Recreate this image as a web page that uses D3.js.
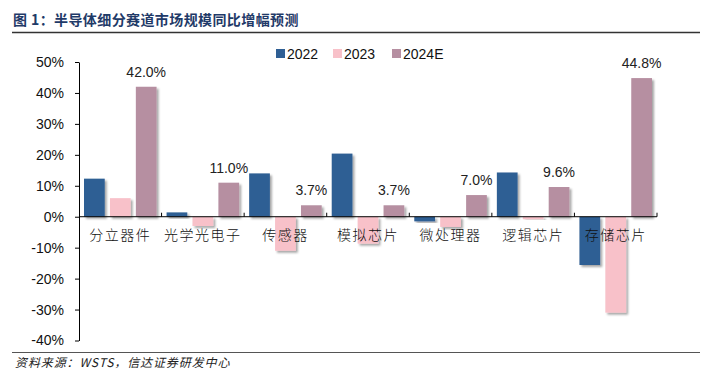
<!DOCTYPE html>
<html>
<head>
<meta charset="utf-8">
<script src="https://cdn.jsdelivr.net/npm/d3@7"></script>
<style>
  body { margin: 0; background: #fff; }
  svg { display: block; }
</style>
</head>
<body>
<script>
// 数据
var categories = ["分立器件", "光学光电子", "传感器", "模拟芯片", "微处理器", "逻辑芯片", "存储芯片"];
var series = ["2022", "2023", "2024E"];
var v2022 = [12.3, 1.4, 14.0, 20.4, -1.5, 14.3, -15.6];
var v2023 = [6.0, -3.0, -11.0, -8.7, -3.3, -0.8, -31.0];
var v2024 = [42.0, 11.0, 3.7, 3.7, 7.0, 9.6, 44.8];
var yTicks = [50, 40, 30, 20, 10, 0, -10, -20, -30, -40];
var colors = ["#2F5F94", "#F8C1C9", "#B68FA1"];

var W = 704, H = 375;
var svg = d3.select("body").append("svg").attr("width", W).attr("height", H);

// sombra de las barras
var defs = svg.append("defs");
var f = defs.append("filter").attr("id", "sombra")
    .attr("x", "-20%").attr("y", "-20%").attr("width", "150%").attr("height", "150%");
f.append("feDropShadow").attr("dx", 2).attr("dy", 2).attr("stdDeviation", 1.2)
    .attr("flood-color", "#000").attr("flood-opacity", 0.35);

// titulo
svg.append("text")
    .attr("x", 13).attr("y", 25)
    .style("font-family", "'Noto Sans CJK SC', sans-serif")
    .style("font-weight", "bold")
    .style("font-size", "14px")
    .style("letter-spacing", "0.4px")
    .attr("fill", "#1F3A68")
    .text("图 1：半导体细分赛道市场规模同比增幅预测");
svg.append("line").attr("x1", 12).attr("x2", 700).attr("y1", 32.5).attr("y2", 32.5)
    .attr("stroke", "#333").attr("stroke-width", 1.5);

// escalas
var x = d3.scaleBand().domain(categories).range([79, 657]).padding(0);
var xs = d3.scaleBand().domain(series).range([5, x.bandwidth() - 5]).paddingInner(0.2);
var y = d3.scaleLinear().domain([-40, 50]).range([340.5, 62]);

var datos = categories.map(function (c, i) {
  return { cat: c, vals: [v2022[i], v2023[i], v2024[i]] };
});

// barras
var grupos = svg.append("g").selectAll("g").data(datos).enter().append("g")
    .attr("transform", d => "translate(" + x(d.cat) + ",0)");

grupos.selectAll("rect")
    .data(d => d.vals.map((v, j) => ({ s: series[j], v: v, j: j })))
    .enter().append("rect")
    .attr("x", d => xs(d.s))
    .attr("width", xs.bandwidth())
    .attr("y", d => y(Math.max(0, d.v)))
    .attr("height", d => Math.abs(y(d.v) - y(0)))
    .attr("fill", d => colors[d.j])
    .attr("filter", "url(#sombra)");

// etiquetas 2024E
grupos.append("text")
    .attr("x", xs("2024E") + xs.bandwidth() / 2)
    .attr("y", d => y(d.vals[2]) - 10)
    .attr("text-anchor", "middle")
    .style("font-family", "'Liberation Sans', Arial, sans-serif")
    .style("font-size", "14px")
    .attr("fill", "#222")
    .text(d => d.vals[2].toFixed(1) + "%");

// eje Y
var ejeY = svg.append("g").attr("transform", "translate(79,0)")
    .call(d3.axisLeft(y).tickValues(yTicks).tickSize(4).tickSizeOuter(0)
      .tickFormat(d => d + "%"));
ejeY.select(".domain").attr("stroke", "#000");
ejeY.selectAll(".tick line").attr("stroke", "#000");
ejeY.selectAll(".tick text")
    .attr("x", -15)
    .style("font-family", "'Liberation Sans', Arial, sans-serif")
    .style("font-size", "14px")
    .attr("fill", "#111");

// eje X en 0
var ejeX = svg.append("g").attr("transform", "translate(0," + y(0) + ")");
ejeX.append("line").attr("x1", 79).attr("x2", 657).attr("y1", 0).attr("y2", 0)
    .attr("stroke", "#000");
ejeX.selectAll("line.tk").data(categories).enter().append("line")
    .attr("class", "tk")
    .attr("x1", d => x(d) + x.bandwidth()).attr("x2", d => x(d) + x.bandwidth())
    .attr("y1", 0).attr("y2", -4).attr("stroke", "#000");
ejeX.selectAll("text").data(categories).enter().append("text")
    .attr("x", d => x(d) + x.bandwidth() / 2)
    .attr("y", 23)
    .attr("text-anchor", "middle")
    .style("font-family", "'Noto Sans CJK SC', sans-serif")
    .style("font-size", "14px")
    .style("font-weight", "300")
    .style("letter-spacing", "1.5px")
    .attr("fill", "#111")
    .text(d => d);

// leyenda
var leyX = [276, 333, 392];
var ley = svg.append("g").selectAll("g").data(series).enter().append("g")
    .attr("transform", (d, i) => "translate(" + leyX[i] + ",49)");
ley.append("rect").attr("width", 9).attr("height", 9).attr("fill", (d, i) => colors[i]);
ley.append("text").attr("x", 11).attr("y", 10)
    .style("font-family", "'Liberation Sans', Arial, sans-serif")
    .style("font-size", "14px")
    .attr("fill", "#111")
    .text(d => d);

// fuente
svg.append("line").attr("x1", 12).attr("x2", 700).attr("y1", 352.5).attr("y2", 352.5)
    .attr("stroke", "#555").attr("stroke-width", 1);
svg.append("text").attr("x", 15).attr("y", 367)
    .style("font-family", "'Noto Sans CJK SC', sans-serif")
    .style("font-size", "12px")
    .style("font-style", "italic")
    .style("letter-spacing", "0.9px")
    .attr("fill", "#222")
    .text("资料来源：WSTS，信达证券研发中心");
</script>
</body>
</html>
